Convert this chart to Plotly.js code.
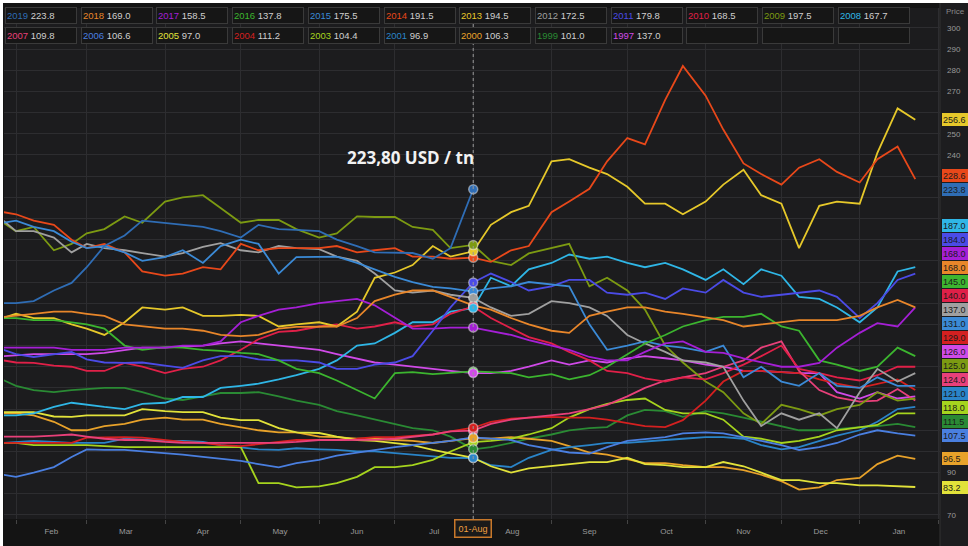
<!DOCTYPE html>
<html><head><meta charset="utf-8">
<script src="https://cdn.plot.ly/plotly-3.0.1.min.js"></script>
<style>
html,body{margin:0;padding:0;background:#ffffff;width:968px;height:546px;overflow:hidden}
#chart{position:absolute;left:3px;top:3px;width:965px;height:543px}
</style></head><body><div id="chart"></div>
<script>
// sampling dates (all seasons mapped onto a Feb-Jan calendar)
const dates = ['2019-01-27',
 '2019-02-01','2019-02-08','2019-02-16','2019-02-23',
 '2019-03-01','2019-03-08','2019-03-16','2019-03-23',
 '2019-04-01','2019-04-08','2019-04-16','2019-04-23',
 '2019-05-01','2019-05-08','2019-05-16','2019-05-23',
 '2019-06-01','2019-06-08','2019-06-16','2019-06-23',
 '2019-07-01','2019-07-08','2019-07-16','2019-07-23',
 '2019-08-01','2019-08-08','2019-08-16','2019-08-23',
 '2019-09-01','2019-09-08','2019-09-16','2019-09-23',
 '2019-10-01','2019-10-08','2019-10-16','2019-10-23',
 '2019-11-01','2019-11-08','2019-11-16','2019-11-23',
 '2019-12-01','2019-12-08','2019-12-16','2019-12-23',
 '2020-01-01','2020-01-08','2020-01-16','2020-01-23'];
const markDate = '2019-08-01';
const markLabel = '01-Aug';
const unit = 'USD / tn';

const years  = ['2019','2018','2017','2016','2015','2014','2013','2012','2011','2010','2009','2008',
                '2007','2006','2005','2004','2003','2001','2000','1999','1997'];
const colors = ['#2f6db5','#e8862a','#a51fd6','#3cb52f','#3b8ad6','#e8481a','#e6c82a','#a0a0a0','#4b4be6','#e02048','#7c9a12','#2fb6e6',
                '#e8407a','#4a7fe0','#e2e23a','#d42020','#a6d41e','#2a84c8','#e8a22a','#2a8a34','#d04ae8'];

const v2019 = [170,170,171,176,179.6,187,197,202,209,208,207,206,204,201,207,205,204.6,204,200,197,194,193.7,193.7,191,196,223.8];
const v2018 = [163.5,164,165,166,166,165,164,160,159,158,158,157,155,154.5,155,158,158.8,158.8,159,163,171,174,176,176,173,169,
               167,163,160,157,156,164,166,168,168,166,165,163.5,162,159,160,161,162,162,162,164,168,171.5,168];
const v2017 = [149,149,149,149,148,148,148,149,149,149,150,150,152,161,164,167,168,170,171,172,169,163,158,158,158.5,158.5,
               157,155,152.6,150,148,144.6,143,143,147,151,152,147,146.5,144,142,140,140,141.8,149,156,160.6,159,168];
const v2016 = [163,163,162,162,161,160,158,150,148,149.3,149,148,147.5,146.5,146,143,139,137,133.5,129,125,137,137.5,136.5,137,137.8,
               137.5,137,135,136.5,134,136,140,146,151,155,159,162,163.5,163.5,165,159,157,143,141,138,140,149,145];
const v2015 = [208,209,206,204,199,196,197,194,190,191.8,195,189,197,200,198,184,191.8,192,192,189,186,182.4,180,177.7,177,175.5,
               177,178,180,179,178,160,148,150,152,150,149,147,150,135,140,133,131,137,131,130,135,131,131];
const v2014 = [213,212,209,207,200,196,198,194,185,183,184,187,186,198,195,196,196,196,197,194,195,196,192,192,191,191.5,
               189.5,195,197,213,218,224,237,248,245,266,282,268,252,236,231,226,234,238,232,227,238,244,228.6];
const v2013 = [163,165,163,163,160,158,155,161,168,167,168,164,164,164.5,164,159,160,161,159,166,182,184.5,188,197,192,194.5,
               207,213,216,237,238,234,231,225,217,217,212,218,226,233,221,217,196,216,218,217,241,262,256.6];
const v2012 = [209,204,204,201,194,198,196,195,193.7,192,193.7,196.6,198.4,195,194,197,196,195.5,192,190,184,176,175,176,174,172.5,
               168,164,165,171,170,168,164,155,151,147,143,142,140,124,112,118,115,118,111,128,139,133,137];
const v2011 = [148,146,144.6,146,147,143.5,142,141.8,142,140.5,139.5,143,145,145,143.5,143,143,142,139,139,141,142,145,157,168,179.8,
               184,180,176,178,181,181,175,174,175,172,177,175,181,175,173,174,175,176,173,163,170,181,184];
const v2010 = [143,142,141.8,140.5,140,138,138,141.8,140,137,139,140,143,148,153,156.5,157,159,160,158,159,161,159,160,165,168.5,
               163,158,154,151,147,143,138,137,134.5,133,135,134,137,141,145,150,139,137,135,133.5,136,140,140];
const v2009 = [208,204,206,195,198,203,205,211,208,218,220,221,215,208,209.3,209.3,205,201,203,211,210.7,210.7,206,204.6,196,197.5,
               190,188,193.5,196,198,178,182,176,167,150,142,133,128,118,113,122,120,117,120,122,128,124,125];
const v2008 = [117,117,118,121,123,122,121,120,122.5,123,125.7,125.7,130,131,132,134,136,139,143,150,151,156,161,161,166,167.7,
               182,178,186,189,193,191,192,189,187,189,186,181,186,179,186,183,173,172,168,161,168,185,187];
const v2007 = [107,107,107,107.5,108,107,106,105.4,105.4,104.5,104,104,104,104,104,104,104.5,105.4,105.4,105.4,105.5,106,107,108,109.5,109.8,
               113,115,116,117,118,120,122,126,130,133.5,135,137,140,143,149,152,138,129,125.5,123.5,124,129.5,124];
const v2006 = [89,88,90,92.6,97.4,101,100.7,100.7,100,99.2,98.5,97.4,96.5,95.5,94,92.5,94.5,96,98,99.5,100.7,102,103,104,105,106.6,
               106,105.4,103,101,99.5,99,102,105,106,106.8,108.5,109,108.5,106.8,105,103,100.7,102,104,108,110,108.5,107.5];
const v2005 = [118.6,118.6,118.6,116.5,116.3,117,117,117,120,119,118.6,118.6,116,114.8,114.8,111,109,108.7,107,105.4,105,104,103,100.7,99,97,
               93,90,92,93,94,95,95,97,94,93.5,92.6,92.6,95,93,90,86.5,86.5,85,85,84,84,83.5,83.2];
const v2004 = [104,104,104,104,104,106.5,106.8,106.8,106.5,105.5,104.5,104,103,102.5,103.5,104.5,105.4,105.4,105.5,106,106.8,106.8,107.3,108,109.5,111.2,
               114,115.5,116,116.3,116,116,115,113.4,112,111.5,114.8,124,133,138,138,137.5,137,134,132,130,132,134,129];
const v2003 = [104,104,103,103,103,103,102.5,102,102,102,102,102,102,102,85,85,83,83.5,85,88,92.6,92.6,93.5,96,100,104.4,
               105,106,108,111,116,120,122.5,124.3,125,119.6,118,118,115,107,106,104,105,107,110,111.5,112.5,118,118];
const v2001 = [104,104.5,105,104.5,104,104,104,106,105.5,105,105,104.5,103,102,101,100.7,101.5,101,100.7,100,100,99.2,98.5,97.5,97,96.9,
               93.5,92.6,97,100.7,102,103,104,104,104.5,105.4,106,106.8,106.8,106,103,101,102,105,107.5,110,114,120,121];
const v2000 = [118,118,117,114,110,110,112,113,115,116,115,115,113,111.5,110,109,109,107,106.8,106,106,105.4,105,104,105,106.3,
               106,106.8,106,105,102.5,99.5,98.5,96.5,94.5,94.5,93.5,92.6,92.6,91.2,89,86,82,83,86.5,87.5,94,98,96.5];
const v1999 = [133.7,131,129,128,129,129.5,130,130,128,125,124.3,126,127.6,127.6,128,126,124,122,119,117,115,113,111,110,107,101,
               102,104,106,108,110,111,111.5,117,119.6,119,116.3,119,118,116,114,112,110,110,110.5,111.5,112,113,111.5];
const v1997 = [145,145.5,146,146,146,146,146.5,148,149,149,149.3,150,151,152,151,150,149,148,146,144,142,141,140,139,138,137,
               137,138,140,143,141,143,142,144,145,144,143,141,140,138,138,137.5,137,137,128,125,128,125,126];

const series = [v2019,v2018,v2017,v2016,v2015,v2014,v2013,v2012,v2011,v2010,v2009,v2008,
                v2007,v2006,v2005,v2004,v2003,v2001,v2000,v1999,v1997];

// ---------- geometry of the page ----------
const M = {l:1, r:28, t:5, b:27};
const DIVW = 965, DIVH = 543;
const PW = DIVW - M.l - M.r, PH = DIVH - M.t - M.b;
const PX0 = 3 + M.l, PY1 = 3 + DIVH - M.b;        // page px of plot left / bottom
const px2paper = px => (px - PX0) / PW;
const py2paper = py => (PY1 - py) / PH;
const yRange = [68.1, 309.4];
const unitsPerPx = (yRange[1] - yRange[0]) / PH;

const mIdx = dates.indexOf(markDate);

// ---------- traces ----------
const traces = [];
for (let i = series.length - 1; i >= 0; i--) {
  traces.push({
    type:'scatter', mode:'lines', x: dates.slice(0, series[i].length), y: series[i],
    line:{color: colors[i], width: 1.8}, hoverinfo:'skip', name: years[i]
  });
}
traces.push({
  type:'scatter', mode:'markers',
  x: series.map(() => markDate), y: series.map(s => s[mIdx]),
  marker:{size:9, color: colors, line:{color:'rgba(255,255,255,0.45)', width:1.5}},
  hoverinfo:'skip'
});

// ---------- annotations ----------
const ann = [];
const legFont = {family:'Liberation Sans, Arial, sans-serif', size:9.5, color:'#cfcfcf'};
for (let k = 0; k < 24; k++) {
  const row = Math.floor(k / 12), col = k % 12;
  const left = 5 + col * 75.7;
  const cy = row === 0 ? 15 : 35;
  let txt = ' ';
  if (k < years.length) {
    txt = '<span style="color:' + colors[k] + '">' + years[k] + '</span> ' + series[k][mIdx].toFixed(1);
  }
  ann.push({xref:'paper', yref:'paper', x: px2paper(left), y: py2paper(cy), xanchor:'left', yanchor:'middle',
    text: txt, showarrow:false, align:'left', width: 68, height: 13, borderpad: 1,
    bgcolor:'#161616', bordercolor:'#3a3a3a', borderwidth:1, font: legFont});
}

const last19 = v2019[v2019.length - 1];
ann.push({xref:'x', yref:'y', x: markDate, y: last19, showarrow:false,
  text: last19.toFixed(2).replace('.', ',') + ' ' + unit, xshift:-63, yshift:32,
  font:{family:'Open Sans, Liberation Sans, sans-serif', size:17, color:'#f2f2f2', weight:700}});

// end-value tags on the right, stacked bottom-up
const sep = 14 * unitsPerPx;
const ends = series.map((s, i) => ({i, v: s[s.length - 1]})).sort((a, b) => a.v - b.v);
let prev = -Infinity;
ends.forEach(e => { e.pos = Math.max(e.v, prev + sep); prev = e.pos; });
ends.forEach(e => {
  ann.push({xref:'paper', yref:'y', x: px2paper(942), y: e.pos, xanchor:'left', yanchor:'middle',
    text: e.v.toFixed(1), showarrow:false, align:'left', width: 30, height: 11, borderpad: 1,
    bgcolor: colors[e.i], borderwidth:0,
    font:{family:'Liberation Sans, Arial, sans-serif', size:9, color:'#1a1a1a'}});
});

// axis tick labels that are covered by a tag are not shown (as in the reference)
const tickVals = [];
for (let t = 70; t <= 300; t += 10) tickVals.push(t);
const tickText = tickVals.map(t =>
  ends.some(e => Math.abs(e.pos - t) < 10.5 * unitsPerPx) ? '' : String(t));

ann.push({xref:'paper', yref:'paper', x: px2paper(944), y: py2paper(11), xanchor:'left', yanchor:'middle',
  text:'Price', showarrow:false, font:{family:'Liberation Sans, Arial', size:8, color:'#8a8a8a'}});

ann.push({xref:'x', yref:'paper', x: markDate, y: py2paper(528), xanchor:'center', yanchor:'middle',
  text: markLabel, showarrow:false, bgcolor:'#1a1a1a', bordercolor:'#c8782a', borderwidth:1.5, borderpad:3,
  font:{family:'Liberation Sans, Arial', size:9, color:'#f0a040'}});

const shapes = [
  {type:'rect', xref:'paper', yref:'paper', x0:1.0, x1:1.05, y0:-0.06, y1:1.02, fillcolor:'#1d1d1f',
   line:{color:'#333', width:1}, layer:'below'},
  {type:'line', xref:'x', yref:'paper', x0: markDate, x1: markDate, y0:0, y1:1,
   line:{color:'#9a9a9a', width:1, dash:'dot'}, layer:'above'}
];

const axFont = {family:'Liberation Sans, Arial, sans-serif', size:8, color:'#9a9a9a'};
const layout = {
  width: DIVW, height: DIVH, margin: M,
  paper_bgcolor:'#141414', plot_bgcolor:'#1c1c1e', showlegend:false,
  xaxis:{type:'date', range:['2019-01-27 06:00','2020-02-01 19:00'], dtick:'M1', tick0:'2019-02-01',
    ticklabelmode:'period', tickformat:'%b', showgrid:true, gridcolor:'#2d2d30', gridwidth:1,
    ticks:'outside', ticklen:4, tickcolor:'#444', tickfont: axFont, zeroline:false, showline:false, fixedrange:true},
  yaxis:{side:'right', range: yRange, tickmode:'array', tickvals: tickVals, ticktext: tickText,
    showgrid:true, gridcolor:'#2d2d30', gridwidth:1,
    tickfont: axFont, zeroline:false, showline:false, ticks:'', ticklabelstandoff:6, fixedrange:true},
  shapes: shapes, annotations: ann
};

Plotly.newPlot('chart', traces, layout, {displayModeBar:false, staticPlot:true});
</script></body></html>
